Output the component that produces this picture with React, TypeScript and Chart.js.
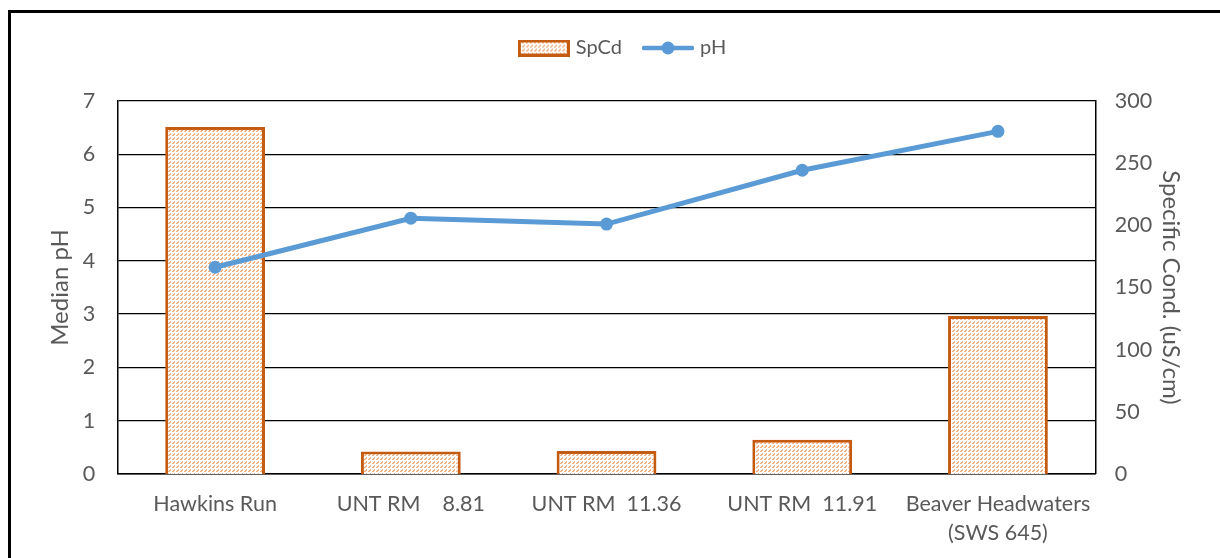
import React, { useEffect, useRef } from "react";
import { Chart, registerables } from "chart.js";

Chart.register(...registerables);

const categories: (string | string[])[] = [
  "Hawkins Run",
  "UNT RM    8.81",
  "UNT RM  11.36",
  "UNT RM  11.91",
  ["Beaver Headwaters", "(SWS 645)"],
];
const spcdValues = [279, 18, 18.5, 27.5, 127];
const phValues = [3.88, 4.8, 4.69, 5.7, 6.43];
const leftTicks = [0, 1, 2, 3, 4, 5, 6, 7];
const rightTicks = [0, 50, 100, 150, 200, 250, 300];

const FONT = "Lato, 'Open Sans', sans-serif";
const TEXT = "#595959";
const ORANGE = "#C55A11";
const LIGHT = "#F4B183";
const BLUE = "#5B9BD5";

function makePattern(ctx: CanvasRenderingContext2D): CanvasPattern | string {
  const c = document.createElement("canvas");
  c.width = 8;
  c.height = 8;
  const g = c.getContext("2d")!;
  g.fillStyle = "#ffffff";
  g.fillRect(0, 0, 8, 8);
  g.fillStyle = LIGHT;
  const pts = [
    [0, 3], [1, 2], [2, 1], [1, 3], [2, 2],
    [4, 7], [5, 6], [6, 5], [5, 7], [6, 6],
    [4, 3], [5, 2], [6, 1], [5, 3], [6, 2],
    [0, 7], [1, 6], [2, 5], [1, 7], [2, 6],
  ];
  pts.forEach(([x, y]) => g.fillRect(x, y, 1, 1));
  return ctx.createPattern(c, "repeat") || LIGHT;
}

function barLegendImage(): HTMLCanvasElement {
  const c = document.createElement("canvas");
  c.width = 52;
  c.height = 17;
  const g = c.getContext("2d")!;
  g.fillStyle = makePattern(g) as any;
  g.fillRect(0, 0, 52, 17);
  g.strokeStyle = ORANGE;
  g.lineWidth = 3;
  g.strokeRect(1.5, 1.5, 49, 14);
  return c;
}

function lineLegendImage(): HTMLCanvasElement {
  const c = document.createElement("canvas");
  c.width = 52;
  c.height = 14;
  const g = c.getContext("2d")!;
  g.strokeStyle = BLUE;
  g.lineWidth = 4.5;
  g.lineCap = "round";
  g.beginPath();
  g.moveTo(2, 7);
  g.lineTo(50, 7);
  g.stroke();
  g.fillStyle = BLUE;
  g.beginPath();
  g.arc(26, 7, 6.5, 0, Math.PI * 2);
  g.fill();
  return c;
}

const legendSpacer = {
  id: "legendSpacer",
  beforeInit(chart: any) {
    const legend = chart.legend;
    if (!legend) return;
    const origFit = legend.fit;
    legend.fit = function () {
      origFit.call(this);
      this.height += 33;
    };
    const origDraw = legend.draw;
    legend.draw = function (...args: any[]) {
      const c = this.ctx;
      c.save();
      c.translate(9, 0);
      origDraw.apply(this, args);
      c.restore();
    };
  },
};

export default function App() {
  const ref = useRef<HTMLCanvasElement | null>(null);

  useEffect(() => {
    const canvas = ref.current!;
    const ctx = canvas.getContext("2d")!;
    const pattern = makePattern(ctx);
    const imgs = [barLegendImage(), lineLegendImage()];

    const chart = new Chart(ctx, {
      data: {
        labels: categories,
        datasets: [
          {
            type: "line",
            label: "pH",
            data: phValues,
            yAxisID: "y",
            borderColor: BLUE,
            backgroundColor: BLUE,
            borderWidth: 5,
            pointRadius: 6.5,
            pointBackgroundColor: BLUE,
            pointBorderWidth: 0,
            order: 0,
          },
          {
            type: "bar",
            label: "SpCd",
            data: spcdValues,
            yAxisID: "y1",
            backgroundColor: pattern as any,
            borderColor: ORANGE,
            borderWidth: 3,
            barPercentage: 0.51,
            categoryPercentage: 1,
            order: 1,
          },
        ],
      },
      plugins: [legendSpacer],
      options: {
        responsive: false,
        animation: false,
        layout: { padding: { top: 14, left: 40, right: 30, bottom: -6 } },
        plugins: {
          tooltip: { enabled: false },
          legend: {
            position: "top",
            labels: {
              usePointStyle: true,
              pointStyleWidth: 44,
              padding: 24,
              color: TEXT,
              font: { family: FONT, size: 20 },
              generateLabels: () => [
                {
                  text: "SpCd",
                  pointStyle: imgs[0],
                  fillStyle: "transparent",
                  strokeStyle: "transparent",
                  lineWidth: 0,
                  hidden: false,
                  datasetIndex: 1,
                  fontColor: TEXT,
                } as any,
                {
                  text: "pH",
                  pointStyle: imgs[1],
                  fillStyle: "transparent",
                  strokeStyle: "transparent",
                  lineWidth: 0,
                  hidden: false,
                  datasetIndex: 0,
                  fontColor: TEXT,
                } as any,
              ],
            },
          },
        },
        scales: {
          x: {
            grid: { display: false, drawTicks: false },
            border: { display: true, color: "#000", width: 1.5 },
            ticks: {
              color: TEXT,
              font: { family: FONT, size: 21.5, lineHeight: 1.35 },
              padding: 16,
              maxRotation: 0,
              autoSkip: false,
            },
          },
          y: {
            position: "left",
            min: 0,
            max: 7,
            afterBuildTicks: (axis: any) => {
              axis.ticks = leftTicks.map((v) => ({ value: v }));
            },
            grid: { color: "#000", lineWidth: 1.3, drawTicks: false },
            border: { display: true, color: "#000", width: 1.5 },
            ticks: {
              color: TEXT,
              font: { family: FONT, size: 21.5 },
              padding: 22,
            },
            title: {
              display: true,
              text: "Median pH",
              color: TEXT,
              font: { family: FONT, size: 24 },
              padding: { top: 6, bottom: -14 },
            },
          },
          y1: {
            position: "right",
            min: 0,
            max: 300,
            afterBuildTicks: (axis: any) => {
              axis.ticks = rightTicks.map((v) => ({ value: v }));
            },
            grid: { display: false, drawTicks: false },
            border: { display: true, color: "#000", width: 1.5 },
            ticks: {
              color: TEXT,
              font: { family: FONT, size: 21.5 },
              padding: 19,
            },
            title: {
              display: true,
              text: "Specific Cond. (uS/cm)",
              color: TEXT,
              font: { family: FONT, size: 24 },
              padding: { top: 5, bottom: -15 },
            },
          },
        },
      },
    });
    return () => chart.destroy();
  }, []);

  return (
    <div style={{ position: "fixed", left: 0, top: 0, width: 1220, height: 558, overflow: "hidden", background: "#fff" }}>
      <div
        style={{
          position: "absolute",
          left: 8,
          top: 10,
          width: 1400,
          height: 700,
          borderTop: "3px solid #000",
          borderLeft: "3px solid #000",
        }}
      />
      <canvas ref={ref} width={1220} height={558} style={{ position: "absolute", left: 0, top: 0, width: 1220, height: 558 }} />
    </div>
  );
}
